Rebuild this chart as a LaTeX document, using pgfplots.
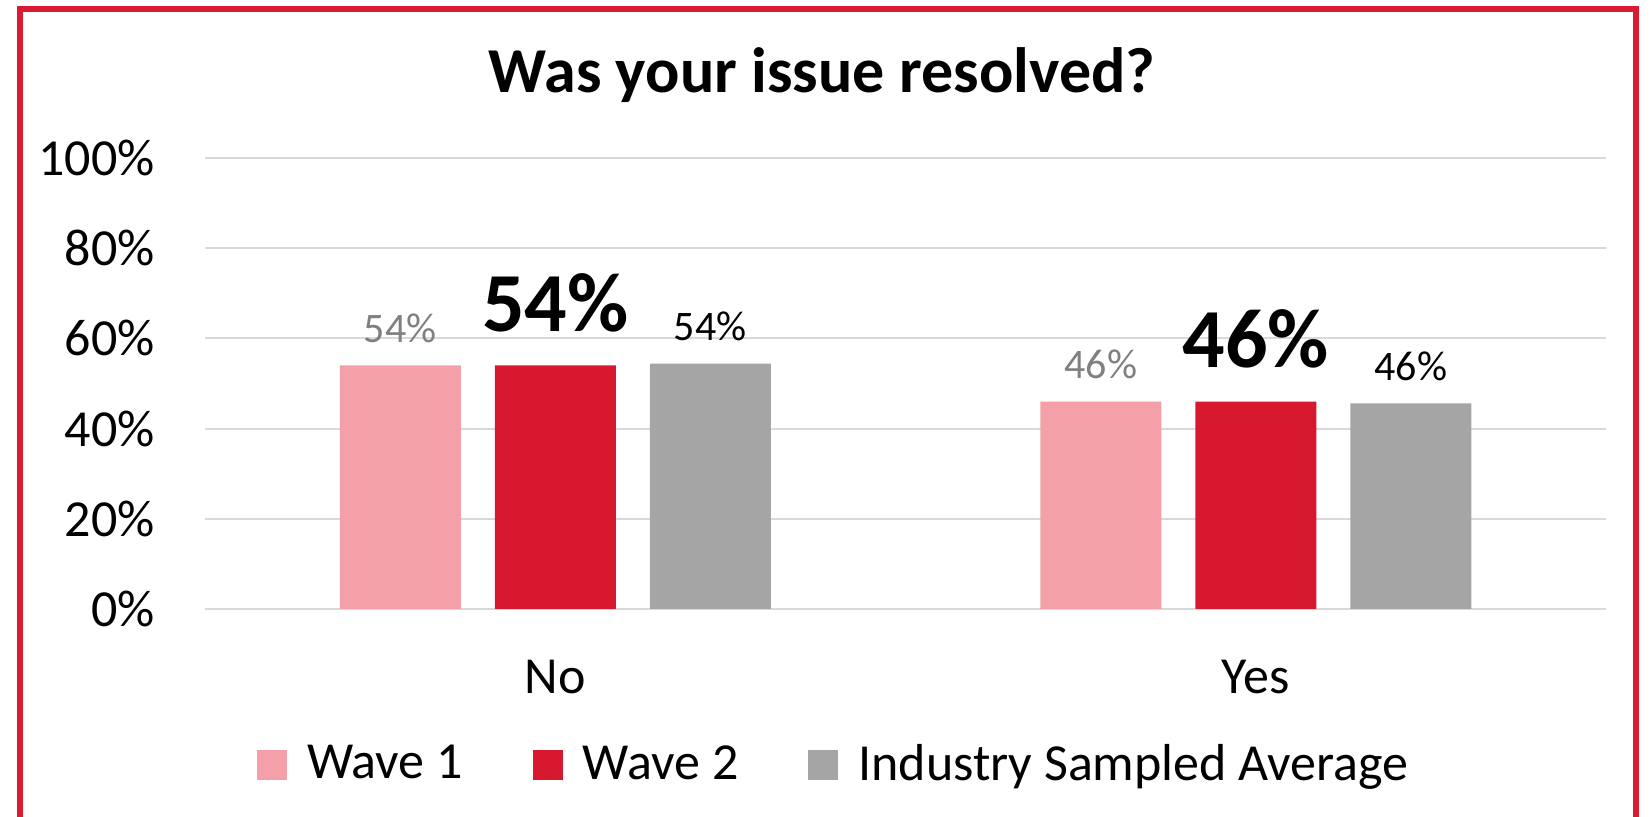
\documentclass[border=0pt]{standalone}
\usepackage{pgfplots}
\pgfplotsset{compat=1.18}
\usepackage{fontspec}
\setmainfont{Carlito}
\definecolor{wone}{HTML}{F4A0A8}
\definecolor{wtwo}{HTML}{D7182F}
\definecolor{ind}{HTML}{A5A5A5}
\definecolor{gridc}{HTML}{D9D9D9}
\definecolor{framec}{HTML}{DB1B32}
\definecolor{lblgrey}{HTML}{808080}
\begin{document}
\begin{tikzpicture}
\path[use as bounding box] (0pt,0pt) rectangle (826pt,408.5pt);
\begin{scope}
\clip (0pt,0pt) rectangle (826pt,408.5pt);
\draw[framec, line width=3pt] (10pt,-5pt) -- (10pt,403.75pt) -- (817.75pt,403.75pt) -- (817.75pt,-5pt);
\end{scope}
\begin{axis}[
  at={(102.5pt,104pt)}, anchor=south west,
  scale only axis, width=700.5pt, height=225.5pt,
  xmin=-0.5, xmax=1.5, ymin=0, ymax=100,
  ybar, bar width=60.5pt,
  xtick={0,1}, xticklabels={No,Yes},
  ytick={0,20,40,60,80,100},
  /pgf/number format/assume math mode=true,
  yticklabel={\pgfmathprintnumber{\tick}\%},
  yticklabel style={anchor=east, inner sep=0pt, xshift=-25pt, font=\fontsize{26}{30}\selectfont},
  xticklabel style={anchor=base, inner sep=0pt, yshift=-42.5pt, font=\fontsize{26}{30}\selectfont},
  major tick length=0pt,
  axis line style={draw=none},
  ymajorgrids, grid style={gridc, line width=1pt},
  legend columns=3,
  legend style={draw=none, at={(0.4497,-0.343)}, anchor=center,
    font=\fontsize{26}{30}\selectfont,
    /tikz/every even column/.append style={column sep=33pt}},
  legend image code/.code={\path[#1, draw=none] (0pt,-8pt) rectangle (15pt,7pt); \path (23pt,0pt);},
  point meta=y,
]
\addplot[fill=wone, draw=none, bar shift=-77.5pt,
  nodes near coords={\pgfmathprintnumber[fixed,precision=0]{\pgfplotspointmeta}\%},
  nodes near coords style={anchor=base, inner sep=0pt, yshift=11.5pt, text=lblgrey, font=\fontsize{21}{25}\selectfont}]
  coordinates {(0,54) (1,46)};
\addplot[fill=wtwo, draw=none, bar shift=0pt,
  nodes near coords={\pgfmathprintnumber[fixed,precision=0]{\pgfplotspointmeta}\%},
  nodes near coords style={anchor=base, inner sep=0pt, yshift=17pt, text=black, font=\fontsize{42}{48}\selectfont\bfseries}]
  coordinates {(0,54) (1,46)};
\addplot[fill=ind, draw=none, bar shift=77.5pt,
  nodes near coords={\pgfmathprintnumber[fixed,precision=0]{\pgfplotspointmeta}\%},
  nodes near coords style={anchor=base, inner sep=0pt, yshift=11.5pt, text=black, font=\fontsize{21}{25}\selectfont}]
  coordinates {(0,54.4) (1,45.6)};
\legend{Wave 1, Wave 2, Industry Sampled Average}
\end{axis}
\node[anchor=base, inner sep=0pt, font=\fontsize{32}{38}\selectfont\bfseries] at (411pt,362pt) {Was your issue resolved?};
\end{tikzpicture}
\end{document}
